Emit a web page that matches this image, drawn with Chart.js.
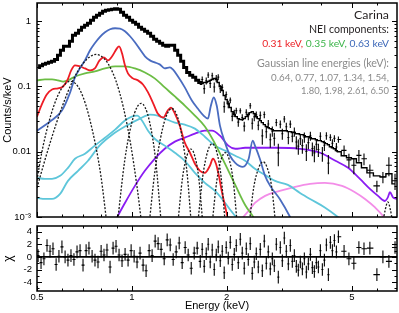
<!DOCTYPE html>
<html>
<head>
<meta charset="utf-8">
<script src="https://cdn.jsdelivr.net/npm/chart.js@4.4.1/dist/chart.umd.min.js"></script>
<style>
  html, body { margin: 0; padding: 0; background: #fff; }
  #wrap { position: relative; width: 399px; height: 313px; }
  #spec { position: absolute; left: 0; top: 0; }
  #chi { position: absolute; left: 0; top: 218px; }
</style>
</head>
<body>
<div id="wrap">
  <canvas id="spec" width="399" height="222"></canvas>
  <canvas id="chi" width="399" height="95"></canvas>
</div>
<script>
// --- energy bins (keV) of the grouped spectrum ---
const binE = [
  0.504, 0.515, 0.526, 0.538, 0.550, 0.562, 0.575, 0.587, 0.600, 0.614, 0.627, 0.641, 0.655, 0.670,
  0.685, 0.700, 0.716, 0.731, 0.748, 0.764, 0.781, 0.799, 0.816, 0.834, 0.853, 0.872, 0.891, 0.911,
  0.931, 0.952, 0.973, 0.995, 1.017, 1.039, 1.062, 1.086, 1.110, 1.135, 1.160, 1.186, 1.212, 1.239,
  1.267, 1.295, 1.324, 1.353, 1.383, 1.414, 1.445, 1.477, 1.510, 1.544, 1.578, 1.613, 1.649,
  1.673, 1.698, 1.723, 1.748, 1.774, 1.800, 1.827, 1.854, 1.881, 1.909, 1.937, 1.965, 1.994, 2.024,
  2.054, 2.084, 2.115, 2.146, 2.178, 2.210, 2.242, 2.275, 2.309, 2.343, 2.377, 2.412, 2.448, 2.484,
  2.521, 2.558, 2.596, 2.634, 2.673, 2.712, 2.752, 2.793, 2.834, 2.876, 2.918, 2.961, 3.005, 3.049,
  3.094, 3.140, 3.186, 3.233, 3.281, 3.329, 3.378, 3.428, 3.479, 3.530, 3.582, 3.635, 3.689, 3.743,
  3.798, 3.854, 3.911, 3.969, 4.027, 4.087, 4.147, 4.208, 4.270, 4.333, 4.397, 4.462, 4.528,
  4.72, 4.89, 5.07, 5.26, 5.46, 5.70, 6.00, 6.27, 6.55, 6.85
];

// total model (counts/s/keV), one value per bin
const modelV = [
  0.196, 0.207, 0.218, 0.226, 0.234, 0.243, 0.260, 0.300, 0.358, 0.412, 0.412, 0.492, 0.609, 0.654,
  0.727, 0.809, 0.868, 0.931, 1.036, 1.152, 1.236, 1.328, 1.425, 1.476, 1.503, 1.530, 1.557, 1.530,
  1.375, 1.236, 1.152, 1.036, 0.965, 0.899, 0.809, 0.753, 0.702, 0.654, 0.588, 0.529, 0.492, 0.459,
  0.428, 0.412, 0.428, 0.428, 0.358, 0.300, 0.243, 0.196, 0.164, 0.148, 0.138, 0.124, 0.115,
  0.111, 0.115, 0.115, 0.119, 0.124, 0.128, 0.133, 0.128, 0.115, 0.100, 0.0868, 0.0727, 0.0631, 0.0547,
  0.0475, 0.0412, 0.0371, 0.0345, 0.0322, 0.0311, 0.0311, 0.0322, 0.0345, 0.0371, 0.0398, 0.0412, 0.0384, 0.0345,
  0.0322, 0.0300, 0.0279, 0.0260, 0.0243, 0.0234, 0.0226, 0.0218, 0.0210, 0.0210, 0.0210, 0.0210, 0.0210, 0.0210,
  0.0210, 0.0203, 0.0203, 0.0196, 0.0196, 0.0189, 0.0189, 0.0183, 0.0183, 0.0176, 0.0170, 0.0170, 0.0164, 0.0158,
  0.0158, 0.0153, 0.0148, 0.0148, 0.0143, 0.0138, 0.0133, 0.0128, 0.0119, 0.0115, 0.0111, 0.0104, 0.0100,
  0.00868, 0.00809, 0.00780, 0.00677, 0.00567, 0.00475, 0.00427, 0.00412, 0.00459, 0.00322
];

// residuals (chi), one value per bin
const resid = [
  0.2, -0.9, -0.3, 1.8, 0.9, 1.3, -1.2, 0.1, 1.6, 0.0, -0.5, 0.2, -0.4, 0.8, 1.0, -1.3, 1.0, 1.4, 0.1, -0.5,
  -0.8, 0.9, 0.3, 1.1, -1.6, 1.4, 1.7, 0.3, -0.6, 0.4, -0.5, 1.0, 0.1, -0.8, 0.6, -1.3, -2.2, 1.0, 0.2, 2.5,
  2.1, 1.2, -0.3, 2.7, 1.9, -0.4, 0.8, 2.2, -0.9, 1.5, 0.3, -1.8, 0.6, 1.4, -0.7,
  1.2, -1.5, 0.5, 2.0, -0.8, 1.1, -2.0, 0.3, 1.6, -0.6, 0.9, -2.5, 1.5, -0.2, 2.3, -1.2, 0.4, 1.8, -0.9, 2.8,
  0.6, -1.8, 1.3, -0.4, 2.1, -2.6, -0.8, 0.5, -1.6, 1.2, -2.2, 2.5, -1.0, 0.8, -1.9, -0.3, -1.4, 2.0, -3.2, 1.5,
  -0.6, 3.0, 0.9, -1.1, 1.8, -0.7, 0.2, -1.5, -2.1, -0.8, -1.9, -0.3, -2.4, -1.1, 0.4, -1.7, -2.3, -0.9, -1.6, 1.0,
  -2.0, -0.5, 1.9, -2.8, 2.3, 1.0, 2.6, 0.8, 3.2,
  0.9, -0.3, -1.0, 1.5, 1.3, 1.4, -2.8, 0.0, -0.7, 1.5
];

// above this bin the spectrum is shown as crosses instead of the thick histogram
const FIRST_CROSS_BIN = 55;
const dataV = [
  0.128, 0.0926, 0.122, 0.150, 0.111, 0.146, 0.098, 0.133, 0.139, 0.0922, 0.0970, 0.0491, 0.0754, 0.0533,
  0.0617, 0.0348, 0.0390, 0.0426, 0.0284, 0.0424, 0.0335, 0.0247, 0.0403, 0.0352, 0.0507, 0.0273, 0.0344,
  0.0367, 0.0255, 0.0361, 0.0175, 0.0371, 0.0202, 0.0266, 0.0153, 0.0207, 0.0160, 0.0281, 0.0096, 0.0264,
  0.0189, 0.0317, 0.0242, 0.0165, 0.0265, 0.0173, 0.0203, 0.0141, 0.0122, 0.0158, 0.0124, 0.0167, 0.0101,
  0.0138, 0.0175, 0.0112, 0.0096, 0.0130, 0.0108, 0.0173, 0.0094, 0.0126, 0.0176, 0.0067, 0.0166, 0.0135,
  0.0160, 0.0118, 0.0154,
  0.0105, 0.0075, 0.0062, 0.0088, 0.0078, 0.0052, 0.0030, 0.0041, 0.0062, 0.0036
];
const dataErr = [
  0.0144, 0.015, 0.015, 0.0155, 0.016, 0.0166, 0.0173, 0.0166, 0.015, 0.013, 0.0113, 0.0095, 0.0082, 0.0071,
  0.0062, 0.0054, 0.0048, 0.0045, 0.0042, 0.0040, 0.0040, 0.0042, 0.0045, 0.0048, 0.0052, 0.0054, 0.0050,
  0.0045, 0.0042, 0.0051, 0.0047, 0.0044, 0.0041, 0.0040, 0.0038, 0.0037, 0.0036, 0.0036, 0.0036, 0.0036,
  0.0036, 0.0036, 0.0036, 0.0035, 0.0035, 0.0033, 0.0033, 0.0032, 0.0032, 0.0031, 0.0031, 0.0030, 0.0029,
  0.0029, 0.0028, 0.0027, 0.0027, 0.0026, 0.0025, 0.0025, 0.0024, 0.0023, 0.0023, 0.0022, 0.0020, 0.0020,
  0.0019, 0.0018, 0.0017,
  0.0020, 0.0018, 0.0017, 0.0018, 0.0016, 0.0012, 0.0006, 0.0008, 0.0020, 0.0010
];

// --- NEI components ---
const blueE = [0.5, 0.55, 0.60, 0.637, 0.66, 0.684, 0.71, 0.737, 0.763, 0.79, 0.822, 0.853, 0.885, 0.917, 0.951, 0.987,
  1.023, 1.061, 1.101, 1.142, 1.182, 1.226, 1.272, 1.321, 1.35, 1.40, 1.473, 1.551, 1.62, 1.69, 1.745, 1.78,
  1.82, 1.86, 1.905, 1.977, 2.05, 2.13, 2.25, 2.35, 2.42, 2.46, 2.55, 2.65, 2.75, 2.95, 3.18, 3.25];
const blueV = [0.021, 0.029, 0.0428, 0.081, 0.138, 0.189, 0.251, 0.358, 0.459, 0.567, 0.677, 0.753, 0.78, 0.77, 0.70, 0.588,
  0.476, 0.371, 0.29, 0.251, 0.234, 0.218, 0.189, 0.196, 0.182, 0.143, 0.0967, 0.061, 0.0459, 0.0358, 0.0322, 0.0492,
  0.0678, 0.051, 0.0251, 0.0138, 0.00868, 0.00677, 0.00587, 0.0078, 0.0148, 0.0124, 0.0078, 0.00427, 0.0030, 0.00189, 0.001, 0.0008];

const redE = [0.5, 0.518, 0.537, 0.558, 0.583, 0.605, 0.624, 0.642, 0.66, 0.684, 0.71, 0.737, 0.763, 0.79, 0.815,
  0.84, 0.866, 0.897, 0.911, 0.931, 0.951, 0.972, 1.008, 1.046, 1.085, 1.126, 1.17, 1.209, 1.26, 1.30, 1.33,
  1.37, 1.42, 1.473, 1.53, 1.586, 1.646, 1.706, 1.77, 1.81, 1.85, 1.89, 1.935, 1.977, 2.024];
const redV = [0.0345, 0.053, 0.075, 0.09, 0.0934, 0.1, 0.124, 0.176, 0.211, 0.203, 0.189, 0.176, 0.189, 0.251, 0.279,
  0.251, 0.29, 0.384, 0.41, 0.322, 0.211, 0.159, 0.133, 0.124, 0.107, 0.081, 0.0547, 0.0384, 0.0334, 0.0428, 0.0475,
  0.0384, 0.0251, 0.0138, 0.00965, 0.00654, 0.0051, 0.00475, 0.0061, 0.0078, 0.00654, 0.00427, 0.00234, 0.00148, 0.00087];

const greenE = [0.5, 0.53, 0.558, 0.583, 0.605, 0.627, 0.66, 0.71, 0.763, 0.822, 0.885, 0.951, 1.023, 1.101, 1.182,
  1.272, 1.37, 1.473, 1.586, 1.706, 1.837, 1.977, 2.13, 2.29, 2.44, 2.53];
const greenV = [0.124, 0.128, 0.128, 0.124, 0.119, 0.124, 0.142, 0.159, 0.17, 0.189, 0.203, 0.203, 0.189, 0.164, 0.133,
  0.0967, 0.0703, 0.051, 0.0358, 0.0243, 0.0133, 0.0065, 0.0031, 0.00153, 0.00097, 0.0007];

// --- other continuum components ---
const cyanAE = [0.5, 0.53, 0.558, 0.592, 0.627, 0.675, 0.726, 0.79, 0.866, 0.951, 1.061, 1.142, 1.209, 1.272, 1.37,
  1.473, 1.586, 1.706, 1.837, 1.977, 2.13, 2.29, 2.46, 2.65, 2.85, 3.13, 3.42, 3.68, 4.10, 4.51, 4.75];
const cyanAV = [0.00196, 0.00189, 0.00189, 0.00226, 0.00358, 0.0051, 0.00727, 0.0124, 0.0182, 0.0243, 0.0322, 0.0371,
  0.0358, 0.0322, 0.0279, 0.026, 0.0226, 0.017, 0.0124, 0.0104, 0.00868, 0.00727, 0.00547, 0.0044, 0.00358, 0.0031,
  0.00234, 0.00189, 0.0014, 0.001, 0.0008];
const cyanBE = [0.5, 0.53, 0.558, 0.592, 0.627, 0.66, 0.71, 0.763, 0.822, 0.885, 0.951, 1.0, 1.04, 1.077, 1.126,
  1.182, 1.272, 1.37, 1.473, 1.586, 1.706, 1.837, 1.935, 2.05, 2.18];
const cyanBV = [0.00398, 0.00384, 0.00384, 0.00427, 0.00567, 0.0078, 0.00931, 0.0124, 0.0164, 0.0218, 0.030, 0.0345,
  0.0358, 0.030, 0.021, 0.0158, 0.0124, 0.00965, 0.00727, 0.00475, 0.00334, 0.00251, 0.00189, 0.0013, 0.0009];
const purpleE = [0.87, 0.897, 0.951, 1.023, 1.10, 1.182, 1.272, 1.37, 1.473, 1.586, 1.706, 1.797, 1.905, 2.024, 2.13,
  2.29, 2.55, 2.85, 3.42, 3.96, 4.43, 4.86, 5.30, 5.70, 6.05, 6.36, 6.50, 6.60, 6.75, 6.95];
const purpleV = [0.0007, 0.00097, 0.00164, 0.0030, 0.0051, 0.0078, 0.0111, 0.0143, 0.0164, 0.0189, 0.021, 0.021, 0.0176,
  0.0124, 0.0111, 0.0115, 0.0115, 0.0115, 0.0111, 0.00965, 0.00727, 0.00567, 0.00384, 0.0027, 0.00211, 0.00176,
  0.0020, 0.0024, 0.0020, 0.00189];
const pinkE = [2.2, 2.25, 2.35, 2.46, 2.65, 2.95, 3.30, 3.68, 4.10, 4.65, 5.11, 5.50, 5.92, 6.27, 6.42];
const pinkV = [0.0008, 0.00097, 0.00124, 0.00164, 0.00211, 0.00251, 0.0029, 0.00322, 0.00334, 0.0030, 0.0024, 0.00189,
  0.0014, 0.00104, 0.00087];

// --- Gaussian lines (keV) and their profiles ---
const lineEnergies = [0.64, 0.77, 1.07, 1.34, 1.54, 1.80, 1.98, 2.61, 6.50];
const gaussE = [
  [0.477, 0.514, 0.553, 0.595, 0.64, 0.689, 0.741, 0.797, 0.833],
  [0.47, 0.5, 0.55, 0.6, 0.65, 0.7, 0.74, 0.77, 0.8, 0.84, 0.89, 0.94, 0.99, 1.04, 1.07],
  [0.90, 0.95, 1.00, 1.04, 1.07, 1.10, 1.14, 1.19, 1.24],
  [1.136, 1.18, 1.23, 1.28, 1.34, 1.40, 1.45, 1.50, 1.544],
  [1.40, 1.45, 1.50, 1.54, 1.58, 1.63, 1.68],
  [1.62, 1.68, 1.74, 1.80, 1.86, 1.92, 1.98],
  [1.80, 1.86, 1.92, 1.98, 2.04, 2.10, 2.16],
  [2.36, 2.44, 2.53, 2.61, 2.69, 2.78, 2.86],
  [6.26, 6.38, 6.50, 6.62, 6.74]
];
const gaussV = [
  [0.0008, 0.0081, 0.036, 0.089, 0.12, 0.083, 0.027, 0.0044, 0.0008],
  [0.00093, 0.0028, 0.0136, 0.048, 0.123, 0.225, 0.29, 0.31, 0.29, 0.225, 0.123, 0.048, 0.0136, 0.0028, 0.00093],
  [0.0008, 0.0075, 0.028, 0.0485, 0.055, 0.0485, 0.028, 0.0075, 0.0008],
  [0.0008, 0.0044, 0.015, 0.033, 0.046, 0.033, 0.015, 0.0044, 0.0008],
  [0.0008, 0.0041, 0.009, 0.011, 0.009, 0.0041, 0.0008],
  [0.0008, 0.0042, 0.010, 0.0133, 0.010, 0.0042, 0.0008],
  [0.0008, 0.0035, 0.0075, 0.0097, 0.0075, 0.0035, 0.0008],
  [0.0008, 0.0029, 0.0057, 0.0070, 0.0057, 0.0029, 0.0008],
  [0.0008, 0.0013, 0.0017, 0.0013, 0.0008]
];

// --- axes ---
const topYTicks = [0.001, 0.01, 0.1, 1];
const topYLabels = ['10\u207B\u00B3', '0.01', '0.1', '1'];
const topYMinor = [0.002, 0.003, 0.004, 0.005, 0.006, 0.007, 0.008, 0.009, 0.02, 0.03, 0.04, 0.05, 0.06, 0.07, 0.08, 0.09,
  0.2, 0.3, 0.4, 0.5, 0.6, 0.7, 0.8, 0.9];
const xTicks = [0.5, 1, 2, 5];
const xMinor = [0.6, 0.7, 0.8, 0.9, 3, 4, 6];
const chiTicks = [-4, -2, 0, 2, 4];
const chiMinor = [-5, -3, -1, 1, 3];

const neiLabels = ['0.31 keV, ', '0.35 keV, ', '0.63 keV'];
const neiColors = ['#ec2227', '#3cb54a', '#3b67b8'];

const FONT = 'Liberation Sans';

// bin edges for the horizontal error bars
const binLo = binE.map((e, i) => i ? Math.sqrt(e * binE[i - 1]) : e * e / Math.sqrt(e * binE[1]));
const binHi = binE.map((e, i) => i < binE.length - 1 ? Math.sqrt(e * binE[i + 1]) : e * e / Math.sqrt(e * binE[i - 1]));

// fixed axis box, no extra label padding around the plot area
const fixWidth = w => s => { s.width = w; s.paddingTop = 0; s.paddingBottom = 0; };
const fixHeight = h => s => { s.height = h; s.paddingLeft = 0; s.paddingRight = 0; };

// --- plugins ---
const frameTicks = {
  id: 'frameTicks',
  afterDraw(chart, args, opts) {
    const { ctx, chartArea: a } = chart;
    const xs = chart.scales.x, ys = chart.scales.y;
    ctx.save();
    ctx.strokeStyle = '#000';
    ctx.lineWidth = 1;
    ctx.beginPath();
    const xt = (vals, len) => vals.forEach(v => {
      const p = Math.round(xs.getPixelForValue(v)) + 0.5;
      ctx.moveTo(p, a.bottom); ctx.lineTo(p, a.bottom - len);
      ctx.moveTo(p, a.top); ctx.lineTo(p, a.top + len);
    });
    const yt = (vals, len) => vals.forEach(v => {
      const p = Math.round(ys.getPixelForValue(v)) + 0.5;
      ctx.moveTo(a.left, p); ctx.lineTo(a.left + len, p);
      ctx.moveTo(a.right, p); ctx.lineTo(a.right - len, p);
    });
    xt(opts.xMajor, 5); xt(opts.xMinor, 2.5);
    yt(opts.yMajor, 5); yt(opts.yMinor, 2.5);
    ctx.stroke();
    ctx.lineWidth = 1.5;
    ctx.strokeRect(a.left, a.top, a.right - a.left, a.bottom - a.top);
    ctx.restore();
  }
};

const errorBars = {
  id: 'errorBars',
  afterDatasetsDraw(chart) {
    const { ctx, chartArea: a } = chart;
    const xs = chart.scales.x, ys = chart.scales.y;
    ctx.save();
    ctx.beginPath();
    ctx.rect(a.left, a.top, a.right - a.left, a.bottom - a.top);
    ctx.clip();
    chart.data.datasets.forEach(ds => {
      if (!ds.errY) return;
      ctx.strokeStyle = ds.borderColor;
      ctx.lineWidth = ds.borderWidth;
      ctx.beginPath();
      ds.data.forEach((pt, i) => {
        const py = ys.getPixelForValue(pt.y);
        const px = xs.getPixelForValue(pt.x);
        const lo = ds.logY ? Math.max(pt.y - ds.errY[i], 1e-5) : pt.y - ds.errY[i];
        ctx.moveTo(xs.getPixelForValue(ds.xLo[i]), py);
        ctx.lineTo(xs.getPixelForValue(ds.xHi[i]), py);
        ctx.moveTo(px, ys.getPixelForValue(lo));
        ctx.lineTo(px, ys.getPixelForValue(pt.y + ds.errY[i]));
      });
      ctx.stroke();
    });
    ctx.restore();
  }
};

// draws a string right-aligned at x, sized so that it spans the given width
function fitText(ctx, text, x, y, width, family) {
  ctx.font = '10px ' + family;
  const size = 10 * width / ctx.measureText(text).width;
  ctx.font = size.toFixed(2) + 'px ' + family;
  ctx.fillText(text, x, y);
}

const legendText = {
  id: 'legendText',
  afterDraw(chart) {
    const ctx = chart.ctx;
    const right = 389;
    ctx.save();
    ctx.textBaseline = 'alphabetic';
    ctx.textAlign = 'right';
    ctx.fillStyle = '#231f20';
    fitText(ctx, 'Carina', right, 18.5, 35, 'Lato');
    fitText(ctx, 'NEI components:', right, 33, 80, 'Lato');
    // coloured temperatures, laid out left to right
    ctx.font = '10px Lato';
    const full = neiLabels.join('');
    const size = 10 * 127 / ctx.measureText(full).width;
    ctx.font = size.toFixed(2) + 'px Lato';
    ctx.textAlign = 'left';
    let x = right - ctx.measureText(full).width;
    neiLabels.forEach((t, i) => {
      ctx.fillStyle = neiColors[i];
      ctx.fillText(t, x, 47);
      x += ctx.measureText(t).width;
    });
    ctx.textAlign = 'right';
    ctx.fillStyle = '#8a8a8a';
    fitText(ctx, 'Gaussian line energies (keV):', right, 67, 132, 'Lato');
    const lines = lineEnergies.map(e => e.toFixed(2));
    fitText(ctx, lines.slice(0, 5).join(', ') + ',', right, 81, 118, 'Lato');
    fitText(ctx, lines.slice(5).join(', '), right, 94, 88, 'Lato');
    ctx.restore();
  }
};

// --- helpers ---
const pts = (E, V) => E.map((e, i) => ({ x: e, y: V[i] }));
const curve = (label, E, V, color) => ({
  label, data: pts(E, V), borderColor: color, borderWidth: 1.8,
  pointRadius: 0, fill: false, cubicInterpolationMode: 'monotone'
});

// --- top panel: spectrum ---
const crossIdx = binE.map((e, i) => i).slice(FIRST_CROSS_BIN);
const topDatasets = [
  {
    label: 'data', data: crossIdx.map((b, i) => ({ x: binE[b], y: dataV[i] })),
    showLine: false, pointRadius: 0, borderColor: '#000', borderWidth: 1.1,
    errY: dataErr, xLo: crossIdx.map(b => binLo[b]), xHi: crossIdx.map(b => binHi[b]), logY: true
  },
  {
    label: 'model (low E)', data: pts(binE.slice(0, FIRST_CROSS_BIN + 1), modelV.slice(0, FIRST_CROSS_BIN + 1)),
    stepped: 'middle', borderColor: '#000', borderWidth: 3, pointRadius: 0
  },
  {
    label: 'model', data: pts(binE.slice(FIRST_CROSS_BIN - 1), modelV.slice(FIRST_CROSS_BIN - 1)),
    stepped: 'middle', borderColor: '#000', borderWidth: 1.4, pointRadius: 0
  },
  ...gaussE.map((E, i) => Object.assign(curve('line ' + lineEnergies[i], E, gaussV[i], '#1a1a1a'),
    { borderWidth: 1.3, borderDash: [2, 1.6] })),
  curve('0.63 keV', blueE, blueV, '#4a6cc0'),
  curve('0.31 keV', redE, redV, '#ee1c25'),
  curve('0.35 keV', greenE, greenV, '#6cbd45'),
  curve('cyan A', cyanAE, cyanAV, '#5ec6da'),
  curve('cyan B', cyanBE, cyanBV, '#5ec6da'),
  curve('purple', purpleE, purpleV, '#8a1cf2'),
  curve('pink', pinkE, pinkV, '#f38de8')
];

new Chart(document.getElementById('spec'), {
  type: 'line',
  data: { datasets: topDatasets },
  options: {
    responsive: false, animation: false, devicePixelRatio: 1, events: [],
    layout: { padding: { left: 0, right: 2, top: 3, bottom: 5 } },
    plugins: {
      legend: { display: false }, tooltip: { enabled: false },
      frameTicks: { xMajor: xTicks, xMinor: xMinor, yMajor: topYTicks, yMinor: topYMinor }
    },
    scales: {
      x: { type: 'logarithmic', min: 0.5, max: 6.95, display: false },
      y: {
        type: 'logarithmic', min: 0.001, max: 1.9,
        grid: { display: false, drawTicks: false }, border: { display: false },
        afterFit: fixWidth(37),
        afterBuildTicks: s => { s.ticks = topYTicks.map(v => ({ value: v })); },
        ticks: {
          autoSkip: false, padding: 6, color: '#000', font: { family: FONT, size: 9.5 },
          callback: v => topYLabels[topYTicks.indexOf(v)]
        },
        title: { display: true, text: 'Counts/s/keV', color: '#000', font: { family: FONT, size: 11 }, padding: { top: 1, bottom: 0 } }
      }
    }
  },
  plugins: [errorBars, frameTicks, legendText]
});

// --- bottom panel: residuals ---
new Chart(document.getElementById('chi'), {
  type: 'line',
  data: {
    datasets: [
      {
        label: 'chi', data: pts(binE, resid), showLine: false, pointRadius: 0,
        borderColor: '#000', borderWidth: 1.1,
        errY: binE.map(() => 1), xLo: binLo, xHi: binHi
      },
      {
        label: 'zero', data: [{ x: 0.5, y: 0 }, { x: 6.95, y: 0 }],
        borderColor: '#000', borderWidth: 1.6, pointRadius: 0
      }
    ]
  },
  options: {
    responsive: false, animation: false, devicePixelRatio: 1, events: [],
    layout: { padding: { left: 0, right: 2, top: 8, bottom: 0 } },
    plugins: {
      legend: { display: false }, tooltip: { enabled: false },
      frameTicks: { xMajor: xTicks, xMinor: xMinor, yMajor: chiTicks, yMinor: chiMinor }
    },
    scales: {
      x: {
        type: 'logarithmic', min: 0.5, max: 6.95,
        grid: { display: false, drawTicks: false }, border: { display: false },
        afterBuildTicks: s => { s.ticks = xTicks.map(v => ({ value: v })); },
        afterFit: fixHeight(22),
        ticks: { autoSkip: false, maxRotation: 0, padding: 1, color: '#000', font: { family: FONT, size: 9.5 }, callback: v => String(v) },
        title: { display: true, text: 'Energy (keV)', color: '#000', font: { family: FONT, size: 11 }, padding: { top: 0, bottom: 0 } }
      },
      y: {
        type: 'linear', min: -5.4, max: 4.9,
        grid: { display: false, drawTicks: false }, border: { display: false },
        afterFit: fixWidth(37),
        afterBuildTicks: s => { s.ticks = chiTicks.map(v => ({ value: v })); },
        ticks: { autoSkip: false, padding: 5, color: '#000', font: { family: FONT, size: 9.5 } },
        title: { display: true, text: '\u03C7', color: '#000', font: { family: FONT, size: 12 }, padding: { top: 1, bottom: 0 } }
      }
    }
  },
  plugins: [errorBars, frameTicks]
});
</script>
</body>
</html>
